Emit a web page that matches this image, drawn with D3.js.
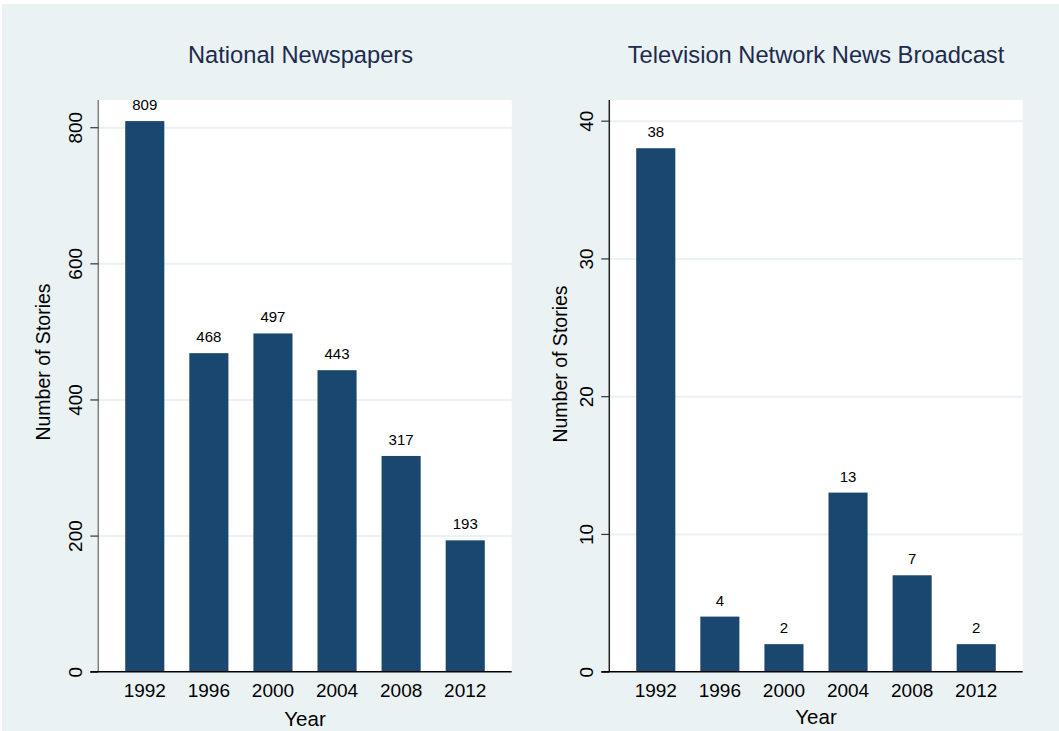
<!DOCTYPE html>
<html>
<head>
<meta charset="utf-8">
<script src="https://cdn.jsdelivr.net/npm/d3@7"></script>
<style>
  body { margin: 0; background: #ffffff; }
  svg { display: block; font-family: "Liberation Sans", Arial, Helvetica, sans-serif; }
</style>
</head>
<body>
<div id="chart"></div>
<script>
// data
var years = ["1992", "1996", "2000", "2004", "2008", "2012"];
var newspaperStories = [809, 468, 497, 443, 317, 193];
var tvStories = [38, 4, 2, 13, 7, 2];
var newspaperTicks = [0, 200, 400, 600, 800];
var tvTicks = [0, 10, 20, 30, 40];
var panelTitles = ["National Newspapers", "Television Network News Broadcast"];

var W = 1059, H = 731;
var bg = "#eaf2f3", barColor = "#1a476f";

var svg = d3.select("#chart")
            .append("svg")
            .attr("width", W)
            .attr("height", H);

svg.append("rect")
   .attr("x", 2).attr("y", 4)
   .attr("width", W - 2).attr("height", H - 4)
   .attr("fill", bg);

// one panel of the combined graph
var drawPanel = function (opt) {
  var top = 100, bottom = 671.7;

  var x = d3.scaleBand()
            .domain(years)
            .range([opt.left, opt.right])
            .paddingInner(0.39)
            .paddingOuter(0.42);

  var y = d3.scaleLinear()
            .domain([0, opt.ymax])
            .range([bottom, top]);

  var g = svg.append("g");

  // plot region
  g.append("rect")
   .attr("x", opt.left).attr("y", top)
   .attr("width", opt.right - opt.left).attr("height", bottom - top)
   .attr("fill", "#ffffff");

  // gridlines
  var grid = d3.axisLeft(y)
               .tickValues(opt.ticks.filter(function (t) { return t > 0; }))
               .tickFormat("")
               .tickSize(-(opt.right - opt.left));
  g.append("g")
   .attr("transform", "translate(" + opt.left + ",0)")
   .call(grid)
   .call(function (s) {
     s.select(".domain").remove();
     s.selectAll("line").attr("stroke", bg).attr("stroke-width", 2);
   });

  // bars
  g.selectAll(".bar")
   .data(opt.values)
   .enter()
   .append("rect")
   .attr("class", "bar")
   .attr("x", function (d, i) { return x(years[i]); })
   .attr("y", function (d) { return y(d); })
   .attr("width", x.bandwidth())
   .attr("height", function (d) { return bottom - y(d); })
   .attr("fill", barColor);

  // value labels
  g.selectAll(".val")
   .data(opt.values)
   .enter()
   .append("text")
   .attr("class", "val")
   .attr("x", function (d, i) { return x(years[i]) + x.bandwidth() / 2; })
   .attr("y", function (d) { return y(d) - 11; })
   .attr("text-anchor", "middle")
   .attr("font-size", "15px")
   .attr("fill", "#000")
   .text(function (d) { return d; });

  // y axis
  var yAxis = d3.axisLeft(y)
                .tickValues(opt.ticks)
                .tickSize(8)
                .tickPadding(0)
                .tickFormat(d3.format("d"));
  var ya = g.append("g")
            .attr("transform", "translate(" + opt.left + ",0)")
            .call(yAxis);
  ya.select(".domain").attr("d", "M0," + top + "V" + bottom)
    .attr("stroke", opt.axisColor).attr("stroke-width", 1.5);
  ya.selectAll(".tick line").attr("stroke", "#333").attr("stroke-width", 1.2);
  ya.selectAll(".tick text")
    .attr("x", null).attr("dy", null)
    .attr("transform", "translate(-16.8,0) rotate(-90)")
    .attr("text-anchor", "middle")
    .attr("font-size", "19px")
    .attr("fill", "#000");

  // x axis (baseline + year labels)
  var xAxis = d3.axisBottom(x).tickSize(0).tickPadding(0);
  var xa = g.append("g")
            .attr("transform", "translate(0," + bottom + ")")
            .call(xAxis);
  xa.select(".domain").attr("d", "M" + (opt.left - 8) + ",0H" + opt.right)
    .attr("stroke", "#000").attr("stroke-width", 1.5);
  xa.selectAll(".tick text")
    .attr("y", 25).attr("dy", null)
    .attr("font-size", "19px")
    .attr("fill", "#000");

  // axis titles
  g.append("text")
   .attr("transform", "translate(" + opt.ytitleX + "," + opt.ytitleY + ") rotate(-90)")
   .attr("text-anchor", "middle")
   .attr("font-size", "19.5px")
   .attr("fill", "#000")
   .text("Number of Stories");

  g.append("text")
   .attr("x", (opt.left + opt.right) / 2)
   .attr("y", opt.xtitleY)
   .attr("text-anchor", "middle")
   .attr("font-size", "20.5px")
   .attr("fill", "#000")
   .text("Year");

  // panel title
  g.append("text")
   .attr("x", opt.titleX)
   .attr("y", 63)
   .attr("text-anchor", "middle")
   .attr("font-size", "23.7px")
   .attr("fill", "#1c2b4f")
   .text(opt.title);
};

drawPanel({
  left: 98.3, right: 511.7, ymax: 840,
  values: newspaperStories, ticks: newspaperTicks,
  title: panelTitles[0], titleX: 300.5,
  ytitleX: 49.5, ytitleY: 362, xtitleY: 726, axisColor: "#7f7f7f"
});

drawPanel({
  left: 609.3, right: 1022.7, ymax: 41.5,
  values: tvStories, ticks: tvTicks,
  title: panelTitles[1], titleX: 816,
  ytitleX: 566.5, ytitleY: 364, xtitleY: 724, axisColor: "#222"
});
</script>
</body>
</html>
